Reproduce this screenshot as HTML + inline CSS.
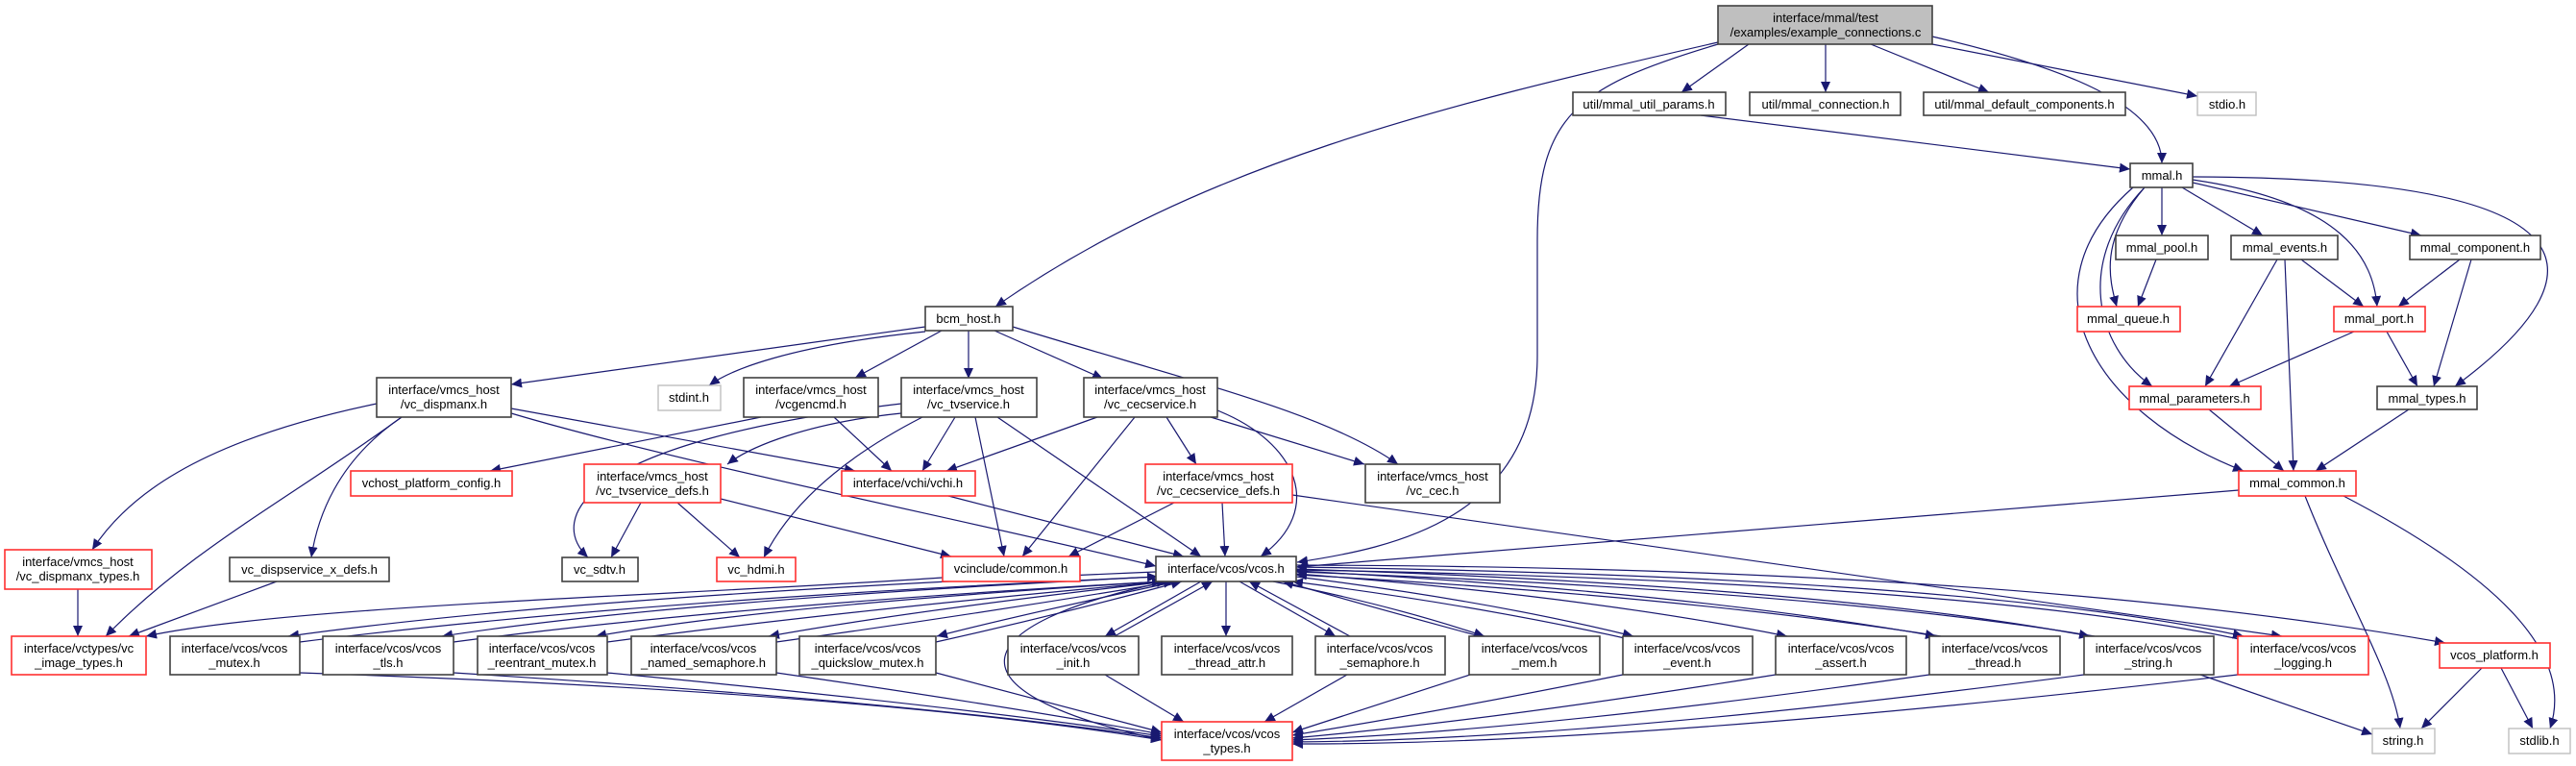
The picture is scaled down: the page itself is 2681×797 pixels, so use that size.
<!DOCTYPE html>
<html><head><meta charset="utf-8"><style>
html,body{margin:0;padding:0;background:#fff;}
svg{display:block;}
text{font-family:"Liberation Sans",sans-serif;font-size:13px;fill:#000;text-anchor:middle;}
.n{fill:#fff;stroke:#404040;stroke-width:1.6;}
.r{fill:#fff;stroke:#ff3030;stroke-width:1.6;}
.g{fill:#fff;stroke:#bfbfbf;stroke-width:1.4;}
.root{fill:#bfbfbf;stroke:#404040;stroke-width:1.6;}
.e path{fill:none;stroke:#191970;stroke-width:1.2;marker-end:url(#a);}
</style></head><body>
<svg width="2681" height="797" viewBox="0 0 2681 797" xmlns="http://www.w3.org/2000/svg">
<defs><marker id="a" markerUnits="userSpaceOnUse" markerWidth="12" markerHeight="10" refX="11" refY="5" orient="auto"><path d="M0,0 L11,5 L0,10 z" fill="#191970"/></marker></defs>
<g class="e">
<path d="M1788,44 C1500,110 1250,170 1036,319"/>
<path d="M1788,46 C1640,90 1600,120 1600,250 L1600,370 C1600,540 1450,570 1350,585"/>
<path d="M1820,46 L1750,96"/>
<path d="M1900,46 L1900,96"/>
<path d="M1947,46 L2070,96"/>
<path d="M2011,46 L2287,100"/>
<path d="M2011,38 C2150,70 2250,110 2250,170"/>
<path d="M1770,120 L2217,176"/>
<path d="M2250,195 L2250,245"/>
<path d="M2271,195 L2355,245"/>
<path d="M2282,190 L2520,245"/>
<path d="M2232,195 C2185,250 2195,290 2203,319"/>
<path d="M2282,187 C2440,210 2470,270 2474,319"/>
<path d="M2282,184 C2700,185 2720,280 2555,402"/>
<path d="M2232,195 C2160,270 2180,360 2240,402"/>
<path d="M2220,195 C2100,300 2180,430 2335,490"/>
<path d="M2244,270 L2225,319"/>
<path d="M2370,270 L2295,402"/>
<path d="M2378,270 L2387,490"/>
<path d="M2395,270 L2460,319"/>
<path d="M2560,270 L2496,319"/>
<path d="M2572,270 L2533,402"/>
<path d="M2450,345 L2320,402"/>
<path d="M2484,345 L2516,402"/>
<path d="M2299,426 L2377,490"/>
<path d="M2507,426 L2410,490"/>
<path d="M2330,510 L1349,590"/>
<path d="M2399,516 C2440,620 2490,700 2498,758"/>
<path d="M2439,516 C2600,600 2680,680 2654,758"/>
<path d="M963,340 L532,400"/>
<path d="M963,345 C820,360 760,385 738,401"/>
<path d="M980,344 L890,393"/>
<path d="M1008,344 L1008,394"/>
<path d="M1035,344 L1148,394"/>
<path d="M1054,340 C1250,400 1380,430 1455,483"/>
<path d="M392,420 C200,460 130,520 96,572"/>
<path d="M418,434 C300,520 200,570 110,662"/>
<path d="M418,434 C350,480 330,540 324,580"/>
<path d="M532,425 L890,490"/>
<path d="M532,430 C700,480 1000,540 1203,589"/>
<path d="M792,434 L510,490"/>
<path d="M868,434 L928,490"/>
<path d="M938,430 C840,440 780,465 757,483"/>
<path d="M994,434 L960,490"/>
<path d="M938,420 C600,460 570,540 612,580"/>
<path d="M960,434 C870,480 820,530 795,580"/>
<path d="M1015,434 L1045,579"/>
<path d="M1038,434 L1250,579"/>
<path d="M1142,434 L985,490"/>
<path d="M1181,434 L1064,579"/>
<path d="M1214,434 L1245,483"/>
<path d="M1260,434 L1420,483"/>
<path d="M1267,427 C1350,460 1380,530 1312,579"/>
<path d="M667,523 L636,580"/>
<path d="M705,523 L770,580"/>
<path d="M750,519 L990,579"/>
<path d="M987,516 L1232,579"/>
<path d="M1222,523 L1112,579"/>
<path d="M1272,523 L1275,579"/>
<path d="M1345,515 L2375,662"/>
<path d="M981,601 C700,620 300,630 152,662"/>
<path d="M81,613 L81,662"/>
<path d="M288,605 L134,662"/>
<path d="M1203,595 Q600,620 300,662"/>
<path d="M312,668 Q650,625 1205,600"/>
<path d="M1205,600 Q700,625 460,662"/>
<path d="M472,668 Q760,630 1210,605"/>
<path d="M1210,605 Q800,630 620,662"/>
<path d="M632,668 Q880,635 1215,605"/>
<path d="M1215,605 Q950,635 800,662"/>
<path d="M808,668 Q1010,640 1222,605"/>
<path d="M1225,605 Q1060,640 975,662"/>
<path d="M974,668 Q1100,640 1230,605"/>
<path d="M1250,605 L1150,662"/>
<path d="M1160,662 L1262,605"/>
<path d="M1276,605 L1276,662"/>
<path d="M1290,605 L1390,662"/>
<path d="M1405,662 L1300,605"/>
<path d="M1325,605 Q1450,630 1545,662"/>
<path d="M1540,662 Q1440,635 1335,605"/>
<path d="M1349,600 Q1550,625 1700,662"/>
<path d="M1700,666 Q1540,630 1345,605"/>
<path d="M1349,597 Q1650,620 1860,662"/>
<path d="M1349,594 Q1750,615 2015,662"/>
<path d="M2020,662 Q1750,620 1349,598"/>
<path d="M1349,592 Q1900,610 2175,662"/>
<path d="M2180,662 Q1900,615 1349,595"/>
<path d="M1349,590 Q2050,600 2335,662"/>
<path d="M2335,666 Q2050,605 1349,593"/>
<path d="M1349,588 Q2100,590 2545,669"/>
<path d="M1215,605 C1000,650 980,720 1209,770"/>
<path d="M312,700 Q900,720 1209,770"/>
<path d="M472,700 Q950,730 1209,768"/>
<path d="M632,700 Q1000,735 1209,766"/>
<path d="M808,700 Q1050,735 1209,764"/>
<path d="M974,700 L1209,762"/>
<path d="M1150,702 L1232,751"/>
<path d="M1402,702 L1316,751"/>
<path d="M1530,702 L1345,762"/>
<path d="M1689,702 Q1500,740 1345,765"/>
<path d="M1848,702 Q1550,750 1345,768"/>
<path d="M2008,702 Q1600,760 1345,770"/>
<path d="M2169,702 Q1650,770 1345,772"/>
<path d="M2329,702 Q1700,775 1345,774"/>
<path d="M2290,702 L2469,764"/>
<path d="M2583,695 L2520,758"/>
<path d="M2603,695 L2636,758"/>
</g>
<!-- nodes -->
<rect class="root" x="1788" y="6" width="223" height="40"/><text x="1900" y="23">interface/mmal/test</text><text x="1900" y="38">/examples/example_connections.c</text>
<rect class="n" x="1637" y="96" width="159" height="24"/><text x="1716" y="113">util/mmal_util_params.h</text>
<rect class="n" x="1821" y="96" width="157" height="24"/><text x="1900" y="113">util/mmal_connection.h</text>
<rect class="n" x="2002" y="96" width="210" height="24"/><text x="2107" y="113">util/mmal_default_components.h</text>
<rect class="g" x="2287" y="96" width="61" height="24"/><text x="2318" y="113">stdio.h</text>
<rect class="n" x="2217" y="170" width="65" height="25"/><text x="2250" y="187">mmal.h</text>
<rect class="n" x="2202" y="245" width="96" height="25"/><text x="2250" y="262">mmal_pool.h</text>
<rect class="n" x="2322" y="245" width="111" height="25"/><text x="2378" y="262">mmal_events.h</text>
<rect class="n" x="2508" y="245" width="136" height="25"/><text x="2576" y="262">mmal_component.h</text>
<rect class="r" x="2162" y="319" width="107" height="26"/><text x="2215" y="336">mmal_queue.h</text>
<rect class="r" x="2429" y="319" width="95" height="26"/><text x="2476" y="336">mmal_port.h</text>
<rect class="r" x="2216" y="402" width="137" height="24"/><text x="2284" y="419">mmal_parameters.h</text>
<rect class="n" x="2474" y="402" width="104" height="24"/><text x="2526" y="419">mmal_types.h</text>
<rect class="r" x="2330" y="490" width="122" height="26"/><text x="2391" y="507">mmal_common.h</text>
<rect class="n" x="963" y="319" width="91" height="25"/><text x="1008" y="336">bcm_host.h</text>
<rect class="n" x="392" y="393" width="140" height="41"/><text x="462" y="410">interface/vmcs_host</text><text x="462" y="425">/vc_dispmanx.h</text>
<rect class="g" x="685" y="401" width="65" height="26"/><text x="717" y="418">stdint.h</text>
<rect class="n" x="774" y="393" width="140" height="41"/><text x="844" y="410">interface/vmcs_host</text><text x="844" y="425">/vcgencmd.h</text>
<rect class="n" x="938" y="393" width="141" height="41"/><text x="1008" y="410">interface/vmcs_host</text><text x="1008" y="425">/vc_tvservice.h</text>
<rect class="n" x="1128" y="393" width="139" height="41"/><text x="1197" y="410">interface/vmcs_host</text><text x="1197" y="425">/vc_cecservice.h</text>
<rect class="r" x="365" y="490" width="168" height="26"/><text x="449" y="507">vchost_platform_config.h</text>
<rect class="r" x="608" y="483" width="142" height="40"/><text x="679" y="500">interface/vmcs_host</text><text x="679" y="515">/vc_tvservice_defs.h</text>
<rect class="r" x="876" y="490" width="139" height="26"/><text x="945" y="507">interface/vchi/vchi.h</text>
<rect class="r" x="1192" y="483" width="153" height="40"/><text x="1268" y="500">interface/vmcs_host</text><text x="1268" y="515">/vc_cecservice_defs.h</text>
<rect class="n" x="1421" y="483" width="140" height="40"/><text x="1491" y="500">interface/vmcs_host</text><text x="1491" y="515">/vc_cec.h</text>
<rect class="r" x="5" y="572" width="153" height="41"/><text x="81" y="589">interface/vmcs_host</text><text x="81" y="604">/vc_dispmanx_types.h</text>
<rect class="n" x="239" y="580" width="166" height="25"/><text x="322" y="597">vc_dispservice_x_defs.h</text>
<rect class="n" x="585" y="580" width="79" height="25"/><text x="624" y="597">vc_sdtv.h</text>
<rect class="r" x="746" y="580" width="82" height="25"/><text x="787" y="597">vc_hdmi.h</text>
<rect class="r" x="981" y="579" width="143" height="26"/><text x="1052" y="596">vcinclude/common.h</text>
<rect class="n" x="1203" y="579" width="146" height="26"/><text x="1276" y="596">interface/vcos/vcos.h</text>
<rect class="r" x="12" y="662" width="140" height="40"/><text x="82" y="679">interface/vctypes/vc</text><text x="82" y="694">_image_types.h</text>
<rect class="n" x="177" y="662" width="135" height="40"/><text x="244" y="679">interface/vcos/vcos</text><text x="244" y="694">_mutex.h</text>
<rect class="n" x="336" y="662" width="136" height="40"/><text x="404" y="679">interface/vcos/vcos</text><text x="404" y="694">_tls.h</text>
<rect class="n" x="497" y="662" width="135" height="40"/><text x="564" y="679">interface/vcos/vcos</text><text x="564" y="694">_reentrant_mutex.h</text>
<rect class="n" x="657" y="662" width="151" height="40"/><text x="732" y="679">interface/vcos/vcos</text><text x="732" y="694">_named_semaphore.h</text>
<rect class="n" x="832" y="662" width="142" height="40"/><text x="903" y="679">interface/vcos/vcos</text><text x="903" y="694">_quickslow_mutex.h</text>
<rect class="n" x="1049" y="662" width="136" height="40"/><text x="1117" y="679">interface/vcos/vcos</text><text x="1117" y="694">_init.h</text>
<rect class="n" x="1209" y="662" width="136" height="40"/><text x="1277" y="679">interface/vcos/vcos</text><text x="1277" y="694">_thread_attr.h</text>
<rect class="n" x="1369" y="662" width="135" height="40"/><text x="1436" y="679">interface/vcos/vcos</text><text x="1436" y="694">_semaphore.h</text>
<rect class="n" x="1529" y="662" width="136" height="40"/><text x="1597" y="679">interface/vcos/vcos</text><text x="1597" y="694">_mem.h</text>
<rect class="n" x="1689" y="662" width="135" height="40"/><text x="1756" y="679">interface/vcos/vcos</text><text x="1756" y="694">_event.h</text>
<rect class="n" x="1848" y="662" width="136" height="40"/><text x="1916" y="679">interface/vcos/vcos</text><text x="1916" y="694">_assert.h</text>
<rect class="n" x="2008" y="662" width="136" height="40"/><text x="2076" y="679">interface/vcos/vcos</text><text x="2076" y="694">_thread.h</text>
<rect class="n" x="2169" y="662" width="135" height="40"/><text x="2236" y="679">interface/vcos/vcos</text><text x="2236" y="694">_string.h</text>
<rect class="r" x="2329" y="662" width="136" height="40"/><text x="2397" y="679">interface/vcos/vcos</text><text x="2397" y="694">_logging.h</text>
<rect class="r" x="2539" y="669" width="115" height="26"/><text x="2596" y="686">vcos_platform.h</text>
<rect class="r" x="1209" y="751" width="136" height="40"/><text x="1277" y="768">interface/vcos/vcos</text><text x="1277" y="783">_types.h</text>
<rect class="g" x="2469" y="758" width="65" height="26"/><text x="2501" y="775">string.h</text>
<rect class="g" x="2611" y="758" width="64" height="26"/><text x="2643" y="775">stdlib.h</text>
</svg>
</body></html>
